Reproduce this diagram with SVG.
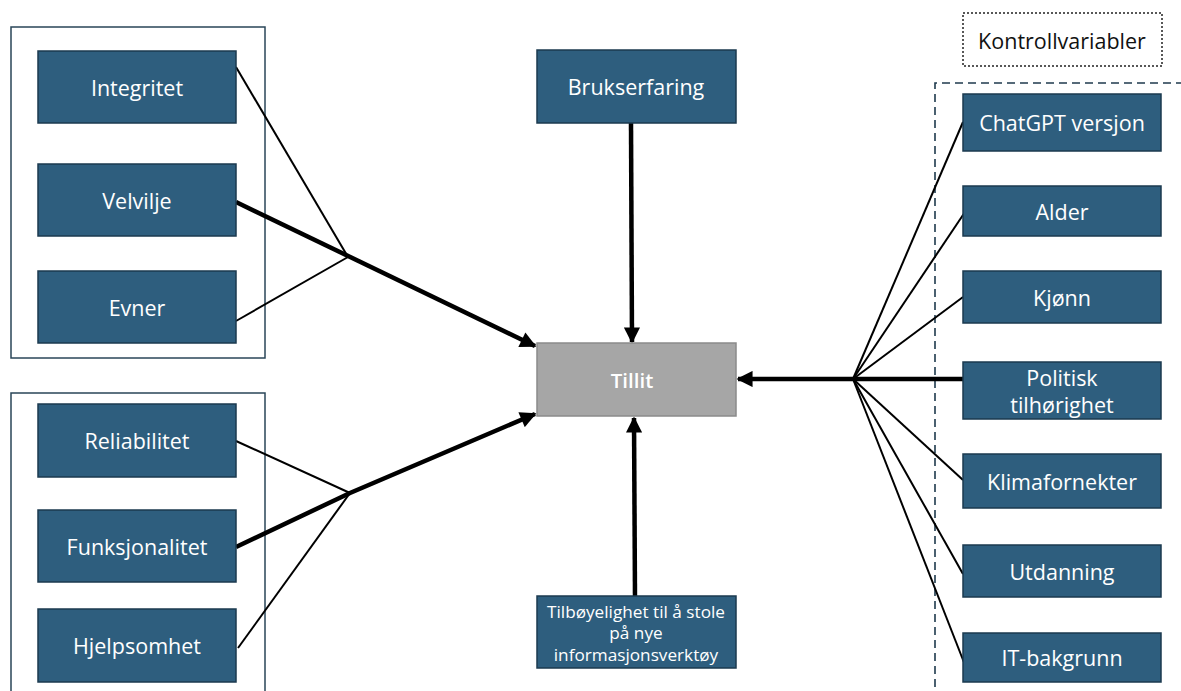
<svg xmlns="http://www.w3.org/2000/svg" width="1181" height="691" viewBox="0 0 1181 691">
<style>
.node rect{fill:#2e5e7e;stroke:#1b3a4f;stroke-width:1.5}
.node text{fill:#ffffff;font-family:"Open Sans","Liberation Sans",sans-serif;font-size:21.5px;text-anchor:middle;dominant-baseline:central}
.small text{font-size:17.2px}
.grp{fill:none;stroke:#2a4658;stroke-width:1.5}
.thin{stroke:#000;stroke-width:2;fill:none}
.thick{stroke:#000;stroke-width:4.5;fill:none}
</style>
<defs>
<marker id="ah" viewBox="0 0 10 10" refX="9" refY="5" markerWidth="4" markerHeight="3.6" orient="auto" markerUnits="strokeWidth">
<path d="M0,0 L10,5 L0,10 z" fill="#000"/>
</marker>
</defs>
<rect width="1181" height="691" fill="#ffffff"/>
<g id="groups">
<rect class="grp" x="11" y="27" width="254" height="331"/>
<path class="grp" d="M11,700 V393 H265 V700"/>
<rect x="963" y="13" width="199" height="53" fill="none" stroke="#222" stroke-width="1.5" stroke-dasharray="2,2"/>
<path d="M935,700 V83 H1190" fill="none" stroke="#1f3a4d" stroke-width="1.6" stroke-dasharray="8,5"/>
</g>
<g id="connectors">
<line class="thin" x1="236" y1="67" x2="348" y2="257"/>
<line class="thin" x1="236" y1="321" x2="348" y2="257"/>
<line class="thick" x1="236" y1="202" x2="535" y2="346" marker-end="url(#ah)"/>
<line class="thin" x1="236" y1="441" x2="350" y2="493"/>
<line class="thin" x1="238" y1="648" x2="350" y2="493"/>
<polyline class="thick" points="236,547 350,493 535,414" marker-end="url(#ah)"/>
<line class="thick" x1="631" y1="123" x2="632" y2="342" marker-end="url(#ah)"/>
<line class="thick" x1="635" y1="598" x2="634" y2="418" marker-end="url(#ah)"/>
<line class="thick" x1="970" y1="379" x2="738" y2="379" marker-end="url(#ah)"/>
<line class="thin" x1="853" y1="379" x2="963" y2="122"/>
<line class="thin" x1="853" y1="379" x2="965" y2="212"/>
<line class="thin" x1="853" y1="379" x2="963" y2="297"/>
<line class="thin" x1="853" y1="379" x2="963" y2="480"/>
<line class="thin" x1="853" y1="379" x2="963" y2="574"/>
<line class="thin" x1="853" y1="379" x2="965" y2="665"/>
</g>
<g id="n-integritet" class="node"><rect x="38" y="51" width="198" height="72"/><text x="137" y="87">Integritet</text></g>
<g id="n-velvilje" class="node"><rect x="38" y="164" width="198" height="72"/><text x="137" y="200">Velvilje</text></g>
<g id="n-evner" class="node"><rect x="38" y="271" width="198" height="72"/><text x="137" y="307">Evner</text></g>
<g id="n-reliabilitet" class="node"><rect x="38" y="404" width="198" height="73"/><text x="137" y="440">Reliabilitet</text></g>
<g id="n-funksjonalitet" class="node"><rect x="38" y="510" width="198" height="72"/><text x="137" y="546">Funksjonalitet</text></g>
<g id="n-hjelpsomhet" class="node"><rect x="38" y="609" width="198" height="73"/><text x="137" y="645">Hjelpsomhet</text></g>
<g id="n-brukserfaring" class="node"><rect x="537" y="50" width="199" height="73"/><text x="636" y="86">Brukserfaring</text></g>
<g id="n-tillit"><rect x="537" y="343" width="199" height="73" fill="#a6a6a6" stroke="#8a8a8a" stroke-width="1.5"/><text x="632" y="380" fill="#fff" font-family="'Open Sans','Liberation Sans',sans-serif" font-size="20.5" font-weight="600" text-anchor="middle" dominant-baseline="central">Tillit</text></g>
<g id="n-tilboyelighet" class="node small"><rect x="537" y="596" width="199" height="72"/>
<text x="636" y="611">Tilbøyelighet til å stole</text>
<text x="636" y="632">på nye</text>
<text x="636" y="654">informasjonsverktøy</text></g>
<g id="n-kontroll"><text x="1062" y="40" fill="#111" font-family="'Open Sans','Liberation Sans',sans-serif" font-size="21.5" text-anchor="middle" dominant-baseline="central">Kontrollvariabler</text></g>
<g id="n-chatgpt" class="node"><rect x="963" y="94" width="198" height="57"/><text x="1062" y="122">ChatGPT versjon</text></g>
<g id="n-alder" class="node"><rect x="963" y="186" width="198" height="50"/><text x="1062" y="211">Alder</text></g>
<g id="n-kjonn" class="node"><rect x="963" y="271" width="198" height="52"/><text x="1062" y="297">Kjønn</text></g>
<g id="n-politisk" class="node"><rect x="963" y="362" width="198" height="57"/><text x="1062" y="377">Politisk</text><text x="1062" y="404">tilhørighet</text></g>
<g id="n-klima" class="node"><rect x="963" y="454" width="198" height="54"/><text x="1062" y="481">Klimafornekter</text></g>
<g id="n-utdanning" class="node"><rect x="963" y="545" width="198" height="52"/><text x="1062" y="571">Utdanning</text></g>
<g id="n-it" class="node"><rect x="963" y="633" width="198" height="49"/><text x="1062" y="657">IT-bakgrunn</text></g>
</svg>
